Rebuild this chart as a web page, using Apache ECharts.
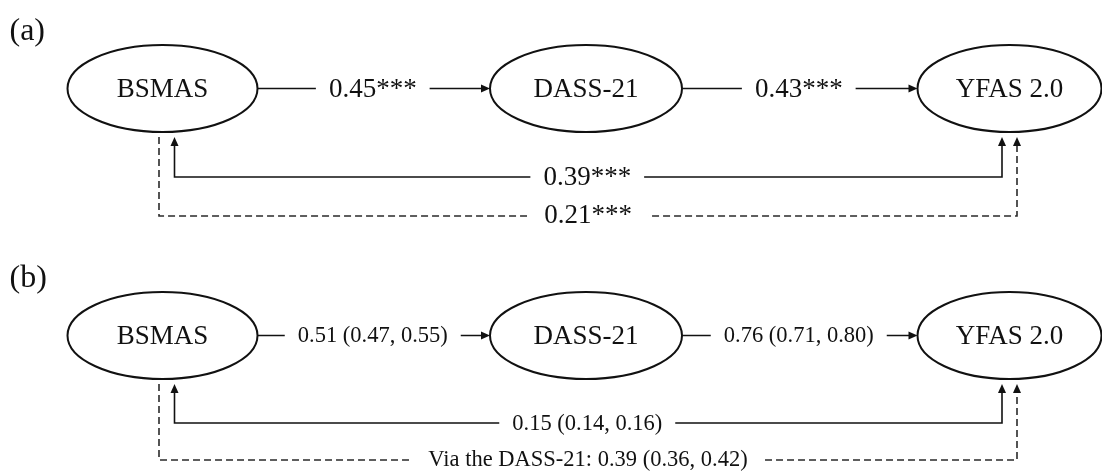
<!DOCTYPE html>
<html>
<head>
<meta charset="utf-8">
<script src="https://cdn.jsdelivr.net/npm/echarts@6/dist/echarts.min.js"></script>
<style>
  html, body { margin: 0; background: #fff; }
  #chart { width: 1102px; height: 471px; }
</style>
</head>
<body>
<div id="chart"></div>
<script>
// ── Data ──
const PANELS = ['(a)', '(b)'];
const NODES = ['BSMAS', 'DASS-21', 'YFAS 2.0'];
const PATH_LABELS_A = ['0.45***', '0.43***'];
const PATH_LABELS_B = ['0.51 (0.47, 0.55)', '0.76 (0.71, 0.80)'];
const DIRECT_LABELS = ['0.39***', '0.15 (0.14, 0.16)'];
const INDIRECT_LABELS = ['0.21***', 'Via the DASS-21: 0.39 (0.36, 0.42)'];

// ── Layout / style ──
const INK = '#111';
const DASH_INK = '#2a2a2a';
const FONT = '"Liberation Serif", "Times New Roman", serif';
const NODE_RX = [95, 96, 92];
const NODE_RY = 43.5;
const LABEL_SIZE = [27, 22.5];
const DIRECT_ROW = [0.358, 0.354];
const INDIRECT_ROW = [0.516, 0.504];
const ARROW_LEN = 9;
const ARROW_HALF = 4;
const TIP_GAP = 5;

const PATH_LABELS = [PATH_LABELS_A, PATH_LABELS_B];

function arrowRight(x, y) {
  return { type: 'polygon', shape: { points: [[x, y], [x - ARROW_LEN, y - ARROW_HALF], [x - ARROW_LEN, y + ARROW_HALF]] }, style: { fill: INK } };
}
function arrowUp(x, y, color) {
  return { type: 'polygon', shape: { points: [[x, y], [x - ARROW_HALF, y + ARROW_LEN], [x + ARROW_HALF, y + ARROW_LEN]] }, style: { fill: color } };
}
function label(text, x, y, size, pad) {
  return {
    type: 'text', x, y, z2: 10,
    style: {
      text, font: `${size}px ${FONT}`, fill: INK, align: 'center', verticalAlign: 'middle',
      backgroundColor: '#fff', padding: [0, pad]
    }
  };
}

function renderNode(params, api) {
  const i = api.value(0), p = api.value(1);
  const c = api.coord([i, p]);
  const children = [
    { type: 'ellipse', shape: { cx: c[0], cy: c[1], rx: NODE_RX[i], ry: NODE_RY }, style: { fill: '#fff', stroke: INK, lineWidth: 2 } },
    { type: 'text', x: c[0], y: c[1] + 1, style: { text: NODES[i], font: `27px ${FONT}`, fill: INK, align: 'center', verticalAlign: 'middle' } }
  ];
  if (i === 0) {
    children.push({ type: 'text', x: c[0] - 153, y: c[1] - 57, style: { text: PANELS[p], font: `32px ${FONT}`, fill: INK, align: 'left', verticalAlign: 'middle' } });
  }
  return { type: 'group', children };
}

function renderPath(params, api) {
  const k = api.value(0), p = api.value(1);
  const a = api.coord([k, p]), b = api.coord([k + 1, p]);
  const x0 = a[0] + NODE_RX[k], x1 = b[0] - NODE_RX[k + 1], y = a[1];
  return {
    type: 'group',
    children: [
      { type: 'line', shape: { x1: x0, y1: y, x2: x1 - ARROW_LEN + 1, y2: y }, style: { stroke: INK, lineWidth: 1.6 } },
      arrowRight(x1, y),
      label(PATH_LABELS[p][k], (x0 + x1) / 2 - 1, y + 1, LABEL_SIZE[p], 13)
    ]
  };
}

function renderLink(params, api) {
  const kind = api.value(0), p = api.value(1);
  const a = api.coord([0, p]), b = api.coord([2, p]);
  const tipY = a[1] + NODE_RY + TIP_GAP;
  if (kind === 0) {
    const y = api.coord([0, p + DIRECT_ROW[p]])[1];
    const xl = a[0] + 12, xr = b[0] - 7.5;
    return {
      type: 'group',
      children: [
        { type: 'polyline', shape: { points: [[xl, tipY + ARROW_LEN - 1], [xl, y], [xr, y], [xr, tipY + ARROW_LEN - 1]] }, style: { fill: 'none', stroke: INK, lineWidth: 1.6 } },
        arrowUp(xl, tipY, INK),
        arrowUp(xr, tipY, INK),
        label(DIRECT_LABELS[p], (xl + xr) / 2 - 1, y + 1, LABEL_SIZE[p], 13)
      ]
    };
  }
  const y = api.coord([0, p + INDIRECT_ROW[p]])[1];
  const xl = a[0] - 3.5, xr = b[0] + 7.5;
  return {
    type: 'group',
    children: [
      { type: 'polyline', shape: { points: [[xl, tipY], [xl, y], [xr, y], [xr, tipY + ARROW_LEN - 1]] }, style: { fill: 'none', stroke: DASH_INK, lineWidth: 1.6, lineDash: [7, 4] } },
      arrowUp(xr, tipY, INK),
      label(INDIRECT_LABELS[p], (xl + xr) / 2, y, LABEL_SIZE[p], p === 0 ? 17 : 16)
    ]
  };
}

const nodeData = [], pathData = [], linkData = [];
PANELS.forEach((_, p) => {
  NODES.forEach((_, i) => nodeData.push([i, p]));
  PATH_LABELS[p].forEach((_, k) => pathData.push([k, p]));
  linkData.push([0, p], [1, p]);
});

const chart = echarts.init(document.getElementById('chart'), null, { renderer: 'canvas' });
chart.setOption({
  animation: false,
  backgroundColor: '#fff',
  grid: { left: 162.5, right: 92.5, top: 88.5, bottom: 135.5 },
  xAxis: { type: 'value', min: 0, max: 2, show: false },
  yAxis: { type: 'value', min: 0, max: 1, inverse: true, show: false },
  series: [
    { type: 'custom', name: 'links', renderItem: renderLink, data: linkData, clip: false, z: 1 },
    { type: 'custom', name: 'paths', renderItem: renderPath, data: pathData, clip: false, z: 2 },
    { type: 'custom', name: 'nodes', renderItem: renderNode, data: nodeData, clip: false, z: 3 }
  ]
});
</script>
</body>
</html>
